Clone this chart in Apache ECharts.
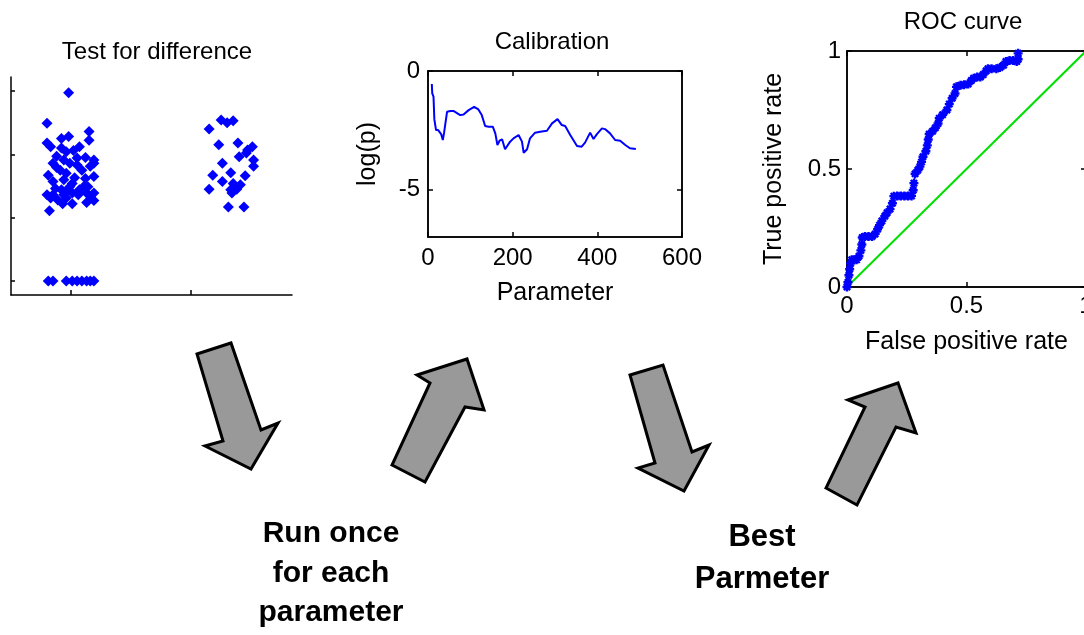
<!DOCTYPE html>
<html>
<head>
<meta charset="utf-8">
<script src="https://cdn.jsdelivr.net/npm/echarts@6/dist/echarts.min.js"></script>
<style>
  html, body { margin: 0; padding: 0; background: #fff; }
  #chart { width: 1084px; height: 635px; }
</style>
</head>
<body>
<div id="chart"></div>
<script>
// ---- Test for difference: two jittered groups (x = group position, y = score)
const groupA = [
  [0.98, 2.97], [0.80, 2.49], [0.98, 2.28], [0.92, 2.25], [1.15, 2.36], [1.15, 2.22],
  [0.80, 2.18], [0.83, 2.12], [1.07, 2.12], [1.02, 2.06], [0.92, 2.10], [0.96, 2.04],
  [0.88, 1.97], [0.94, 1.91], [1.12, 1.95], [1.19, 1.91], [1.05, 1.94], [0.85, 1.86],
  [0.99, 1.86], [1.05, 1.83], [0.88, 1.79], [0.81, 1.67], [0.91, 1.75], [0.96, 1.70],
  [1.09, 1.75], [1.16, 1.81], [1.19, 1.86], [0.85, 1.57], [0.94, 1.60], [1.01, 1.54],
  [1.03, 1.63], [1.12, 1.62], [1.19, 1.65], [0.87, 1.46], [0.92, 1.44], [0.99, 1.49],
  [0.97, 1.44], [1.07, 1.44], [1.11, 1.50], [1.14, 1.49], [0.80, 1.36], [0.85, 1.36],
  [0.94, 1.36], [1.01, 1.39], [1.06, 1.36], [1.13, 1.39], [1.19, 1.39], [1.16, 1.34],
  [0.83, 1.31], [0.89, 1.28], [0.96, 1.31], [1.19, 1.27], [0.93, 1.22], [1.01, 1.22],
  [1.13, 1.24], [0.82, 1.11]
];
const groupAZeros = [
  [0.81, 0], [0.85, 0], [0.96, 0], [1.01, 0], [1.05, 0], [1.09, 0], [1.13, 0], [1.16, 0], [1.19, 0]
];
const groupB = [
  [2.25, 2.54], [2.30, 2.50], [2.35, 2.53], [2.15, 2.40], [2.23, 2.15], [2.39, 2.18],
  [2.51, 2.12], [2.47, 2.07], [2.46, 2.02], [2.40, 1.96], [2.26, 1.86], [2.52, 1.91],
  [2.52, 1.81], [2.18, 1.67], [2.33, 1.71], [2.45, 1.66], [2.26, 1.57], [2.35, 1.54],
  [2.41, 1.52], [2.15, 1.45], [2.33, 1.44], [2.38, 1.45], [2.34, 1.39], [2.31, 1.17],
  [2.44, 1.17]
];
const diffXTicks = [1, 2];
const diffYTicks = [0, 1, 2, 3];

// ---- Calibration: log(p) against the parameter value
const paramValues = [
  9, 10, 13, 15, 19, 21, 24, 31, 35, 38, 45, 53, 61, 76, 84, 96, 109, 119, 127, 135,
  143, 153, 159, 164, 169, 172, 175, 182, 194, 202, 214, 222, 226, 234, 241, 253, 265,
  281, 293, 306, 316, 324, 336, 352, 363, 371, 383, 391, 399, 411, 418, 430, 442, 454,
  466, 477, 491
];
const logP = [
  -0.55, -0.94, -1.08, -2.04, -2.49, -2.42, -2.49, -2.66, -2.91, -2.60, -1.72, -1.69,
  -1.69, -1.86, -1.83, -1.65, -1.51, -1.62, -1.86, -2.32, -2.35, -2.35, -2.63, -3.12,
  -2.94, -3.00, -2.88, -3.30, -2.98, -2.84, -2.70, -2.98, -3.45, -3.30, -2.84, -2.60,
  -2.56, -2.52, -2.21, -2.03, -2.28, -2.32, -2.70, -3.16, -3.19, -3.02, -2.60, -2.87,
  -2.66, -2.42, -2.45, -2.63, -2.91, -2.94, -3.12, -3.26, -3.29
];
const calibXTicks = [0, 200, 400, 600];
const calibYTicks = [-5, 0];

// ---- ROC curve
const fpr = [
  0, 0.004, 0.008, 0.011, 0.015, 0.02, 0.03, 0.04, 0.05, 0.058, 0.062, 0.064, 0.075,
  0.09, 0.105, 0.118, 0.128, 0.136, 0.146, 0.158, 0.168, 0.18, 0.19, 0.196, 0.21, 0.225,
  0.24, 0.255, 0.27, 0.277, 0.28, 0.285, 0.296, 0.305, 0.312, 0.318, 0.33, 0.336, 0.34,
  0.344, 0.358, 0.37, 0.381, 0.386, 0.4, 0.418, 0.428, 0.44, 0.452, 0.458, 0.475, 0.49,
  0.507, 0.52, 0.53, 0.545, 0.558, 0.57, 0.582, 0.59, 0.605, 0.625, 0.64, 0.655, 0.665,
  0.68, 0.695, 0.71, 0.716, 0.716
];
const tpr = [
  0, 0.02, 0.05, 0.075, 0.1, 0.115, 0.115, 0.115, 0.13, 0.155, 0.18, 0.21, 0.214,
  0.214, 0.214, 0.225, 0.245, 0.262, 0.28, 0.3, 0.315, 0.33, 0.355, 0.385, 0.386, 0.386,
  0.386, 0.386, 0.386, 0.41, 0.44, 0.48, 0.495, 0.51, 0.53, 0.552, 0.575, 0.6, 0.625,
  0.648, 0.66, 0.675, 0.693, 0.715, 0.73, 0.75, 0.775, 0.8, 0.82, 0.848, 0.855, 0.857,
  0.86, 0.875, 0.885, 0.89, 0.89, 0.9, 0.915, 0.925, 0.925, 0.925, 0.93, 0.94, 0.955,
  0.96, 0.96, 0.955, 0.965, 0.99
];
const chancePoints = [[0, 0], [1, 1]];
const bestPoint = [[0.43, 0.82]];

// ---- Workflow arrows between the panels (outline polygons)
const arrowShapes = [
  [[197, 354], [231, 343], [261, 430], [278, 423], [251, 469], [205, 446], [223, 441]],
  [[392, 465], [425, 482], [465, 407], [484, 410], [467, 359], [417, 375], [430, 383]],
  [[630, 375], [663, 365], [692, 452], [709, 445], [684, 491], [638, 468], [655, 463]],
  [[826, 488], [857, 505], [896, 427], [916, 433], [898, 383], [848, 400], [865, 407]]
];

const FONT = '"Liberation Sans", Arial, Helvetica, sans-serif';
const axisLineStyle = { color: '#000', width: 1.5 };
const tickText = { color: '#000', fontSize: 24, fontFamily: FONT };
const nameText = { color: '#000', fontSize: 25, fontFamily: FONT };
const dotStyle = { color: '#0000ff', opacity: 1 };

function pairs(xs, ys) { return xs.map((x, i) => [x, ys[i]]); }

function frameAxis(extra) {
  return Object.assign({
    type: 'value',
    splitLine: { show: false },
    axisLine: { show: true, onZero: false, lineStyle: axisLineStyle },
    axisTick: { show: true, inside: true, length: 5, lineStyle: axisLineStyle },
    axisLabel: { show: false }
  }, extra);
}

const chart = echarts.init(document.getElementById('chart'), null, { renderer: 'canvas' });

const option = {
  backgroundColor: '#fff',
  animation: false,
  grid: [
    { left: 11, top: 77, width: 281, height: 218, outerBoundsMode: 'none', containLabel: false },
    { left: 428, top: 71, width: 254, height: 166, outerBoundsMode: 'none', containLabel: false,
      show: true, borderColor: '#000', borderWidth: 1.5, backgroundColor: '#fff' },
    { left: 847, top: 51, width: 239, height: 236, outerBoundsMode: 'none', containLabel: false,
      show: true, borderColor: '#000', borderWidth: 1.5, backgroundColor: '#fff' }
  ],
  xAxis: [
    frameAxis({ gridIndex: 0, min: 0.5, max: 2.84,
      axisTick: { show: true, inside: true, length: 5, lineStyle: axisLineStyle, customValues: diffXTicks } }),
    frameAxis({ gridIndex: 1, min: 0, max: 600, interval: 200,
      axisLabel: { show: true, margin: 9, ...tickText },
      name: 'Parameter', nameLocation: 'middle', nameGap: 44, nameTextStyle: nameText }),
    frameAxis({ gridIndex: 1, position: 'top', min: 0, max: 600, interval: 200 }),
    frameAxis({ gridIndex: 2, min: 0, max: 1, interval: 0.5,
      axisLabel: { show: true, margin: 7, ...tickText },
      name: 'False positive rate', nameLocation: 'middle', nameGap: 43, nameTextStyle: nameText }),
    frameAxis({ gridIndex: 2, position: 'top', min: 0, max: 1, interval: 0.5 })
  ],
  yAxis: [
    frameAxis({ gridIndex: 0, min: -0.22, max: 3.22,
      axisTick: { show: true, inside: true, length: 4, lineStyle: axisLineStyle, customValues: diffYTicks } }),
    frameAxis({ gridIndex: 1, min: -7, max: 0,
      axisTick: { show: true, inside: true, length: 5, lineStyle: axisLineStyle, customValues: calibYTicks },
      axisLabel: { show: true, margin: 8, customValues: calibYTicks, ...tickText },
      name: 'log(p)', nameLocation: 'middle', nameGap: 47, nameTextStyle: nameText }),
    frameAxis({ gridIndex: 1, position: 'right', min: -7, max: 0,
      axisTick: { show: true, inside: true, length: 5, lineStyle: axisLineStyle, customValues: calibYTicks } }),
    frameAxis({ gridIndex: 2, min: 0, max: 1, interval: 0.5,
      axisLabel: { show: true, margin: 6, ...tickText },
      name: 'True positive rate', nameLocation: 'middle', nameGap: 60, nameTextStyle: nameText }),
    frameAxis({ gridIndex: 2, position: 'right', min: 0, max: 1, interval: 0.5 })
  ],
  series: [
    { type: 'scatter', xAxisIndex: 0, yAxisIndex: 0, data: groupA, symbol: 'diamond', symbolSize: 11,
      itemStyle: dotStyle },
    { type: 'scatter', xAxisIndex: 0, yAxisIndex: 0, data: groupAZeros, symbol: 'diamond', symbolSize: 11,
      itemStyle: dotStyle },
    { type: 'scatter', xAxisIndex: 0, yAxisIndex: 0, data: groupB, symbol: 'diamond', symbolSize: 11,
      itemStyle: dotStyle },
    { type: 'line', xAxisIndex: 1, yAxisIndex: 1, data: pairs(paramValues, logP), showSymbol: false,
      symbol: 'none', lineStyle: { color: '#0000ff', width: 2 } },
    { type: 'line', xAxisIndex: 3, yAxisIndex: 3, data: chancePoints, symbol: 'none',
      lineStyle: { color: '#00e000', width: 2 } },
    { type: 'line', xAxisIndex: 3, yAxisIndex: 3, data: pairs(fpr, tpr),
      symbol: 'path://M0,4L8,4M4,0L4,8M1.2,1.2L6.8,6.8M6.8,1.2L1.2,6.8', symbolSize: 9,
      itemStyle: { color: '#0000ff', borderColor: '#0000ff', borderWidth: 2.4, opacity: 1 },
      lineStyle: { color: '#0000ff', width: 1.5 } },
    { type: 'scatter', xAxisIndex: 3, yAxisIndex: 3, data: bestPoint, symbol: 'emptyCircle', symbolSize: 13,
      itemStyle: { color: '#fff', borderColor: '#0000ff', borderWidth: 1.2, opacity: 1 } }
  ],
  graphic: [
    { type: 'text', x: 157, y: 52, style: { text: 'Test for difference', font: '24px ' + FONT, fill: '#000', align: 'center', verticalAlign: 'middle' } },
    { type: 'text', x: 552, y: 42, style: { text: 'Calibration', font: '24px ' + FONT, fill: '#000', align: 'center', verticalAlign: 'middle' } },
    { type: 'text', x: 963, y: 22, style: { text: 'ROC curve', font: '24px ' + FONT, fill: '#000', align: 'center', verticalAlign: 'middle' } },
    ...arrowShapes.map(pts => ({
      type: 'polygon', shape: { points: pts },
      style: { fill: '#999999', stroke: '#000', lineWidth: 3, lineJoin: 'miter' }
    })),
    { type: 'text', x: 331, y: 534, style: { text: 'Run once', font: 'bold 30px ' + FONT, fill: '#000', align: 'center', verticalAlign: 'middle' } },
    { type: 'text', x: 331, y: 574, style: { text: 'for each', font: 'bold 30px ' + FONT, fill: '#000', align: 'center', verticalAlign: 'middle' } },
    { type: 'text', x: 331, y: 613, style: { text: 'parameter', font: 'bold 30px ' + FONT, fill: '#000', align: 'center', verticalAlign: 'middle' } },
    { type: 'text', x: 762, y: 537, style: { text: 'Best', font: 'bold 31px ' + FONT, fill: '#000', align: 'center', verticalAlign: 'middle' } },
    { type: 'text', x: 762, y: 579, style: { text: 'Parmeter', font: 'bold 31px ' + FONT, fill: '#000', align: 'center', verticalAlign: 'middle' } }
  ]
};

chart.setOption(option);
</script>
</body>
</html>
